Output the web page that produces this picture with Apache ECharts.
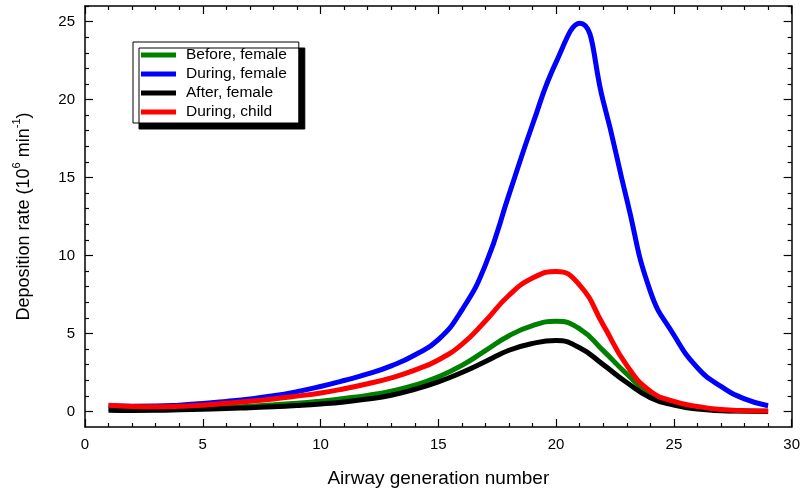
<!DOCTYPE html>
<html>
<head>
<meta charset="utf-8">
<script src="https://cdn.jsdelivr.net/npm/echarts@6/dist/echarts.min.js"></script>
<style>
  html, body { margin: 0; padding: 0; background: #fff; }
  #chart { width: 803px; height: 493px; }
</style>
</head>
<body>
<div id="chart"></div>
<script>
// Airway generation number (x values shared by every curve)
const generations = [1, 2, 3, 4, 5, 6, 7, 8, 9, 10, 11, 12, 13, 14, 15, 16, 17, 18, 19, 20, 21, 22, 23, 24, 25, 26, 27, 28, 29];

// Deposition rate, 10^6 per minute
const beforeFemale = [0.15, 0.12, 0.12, 0.15, 0.2, 0.26, 0.33, 0.42, 0.52, 0.66, 0.83, 1.03, 1.3, 1.68, 2.22, 2.95, 3.9, 4.85, 5.5, 5.78, 5.3, 3.9, 2.4, 1.1, 0.5, 0.22, 0.08, 0.03, 0.01];
const duringFemale = [0.38, 0.33, 0.34, 0.4, 0.5, 0.64, 0.8, 1.0, 1.27, 1.6, 1.98, 2.4, 2.92, 3.62, 4.6, 6.5, 9.4, 13.9, 18.4, 22.4, 24.9, 19.9, 13.6, 7.7, 4.9, 2.8, 1.6, 0.8, 0.36];
const afterFemale = [0.08, 0.06, 0.07, 0.1, 0.14, 0.18, 0.24, 0.3, 0.38, 0.48, 0.61, 0.79, 1.04, 1.42, 1.9, 2.5, 3.2, 3.92, 4.36, 4.54, 4.08, 3.0, 1.85, 0.88, 0.4, 0.15, 0.05, 0.02, 0.0];
const duringChild = [0.4, 0.32, 0.3, 0.33, 0.4, 0.52, 0.65, 0.8, 0.98, 1.18, 1.45, 1.77, 2.15, 2.65, 3.3, 4.3, 5.8, 7.45, 8.55, 8.98, 8.1, 5.55, 2.95, 1.3, 0.64, 0.32, 0.12, 0.05, 0.02];

const seriesNames = ['Before, female', 'During, female', 'After, female', 'During, child'];
const seriesColors = ['#008000', '#0000ff', '#000000', '#ff0000'];
const seriesValues = [beforeFemale, duringFemale, afterFemale, duringChild];

// Y axis ticks
const yMajorTicks = [0, 5, 10, 15, 20, 25];
const yMinorTicks = [1, 2, 3, 4, 6, 7, 8, 9, 11, 12, 13, 14, 16, 17, 18, 19, 21, 22, 23, 24, 26];

const FONT = 'Liberation Sans, Arial, Helvetica, sans-serif';
const axisLine = { show: true, onZero: false, lineStyle: { color: '#000', width: 1.5 } };

function xAxisDef(position, withLabels) {
  return {
    type: 'value', position: position, min: 0, max: 30, interval: 5,
    axisLine: axisLine,
    axisTick: { show: true, inside: true, length: 8, lineStyle: { color: '#000', width: 1.2 } },
    minorTick: { show: true, splitNumber: 5, length: 4, lineStyle: { color: '#000', width: 1.2 } },
    splitLine: { show: false },
    axisLabel: { show: withLabels, color: '#000', fontFamily: FONT, fontSize: 15, margin: 10 },
    name: withLabels ? 'Airway generation number' : '',
    nameLocation: 'middle', nameGap: 42,
    nameTextStyle: { color: '#000', fontFamily: FONT, fontSize: 19 }
  };
}

function yAxisDef(position, ticks, len, withLabels, withLine) {
  const axis = {
    type: 'value', position: position, min: -1, max: 26,
    axisLine: withLine ? axisLine : { show: false, onZero: false },
    axisTick: { show: true, inside: true, length: len, customValues: ticks, lineStyle: { color: '#000', width: 1.2 } },
    splitLine: { show: false },
    axisLabel: withLabels
      ? { show: true, customValues: yMajorTicks, color: '#000', fontFamily: FONT, fontSize: 15, margin: 10 }
      : { show: false }
  };
  if (withLabels) {
    axis.name = '{t|Deposition rate (10}{s|6}{t| min}{s|-1}{t|)}';
    axis.nameLocation = 'middle';
    axis.nameGap = 52;
    axis.nameRotate = 90;
    axis.nameTextStyle = {
      rich: {
        t: { color: '#000', fontFamily: FONT, fontSize: 18, lineHeight: 22, verticalAlign: 'bottom' },
        s: { color: '#000', fontFamily: FONT, fontSize: 11, lineHeight: 22, verticalAlign: 'top' }
      }
    };
  }
  return axis;
}

const chart = echarts.init(document.getElementById('chart'), null, { renderer: 'canvas' });

chart.setOption({
  animation: false,
  backgroundColor: '#fff',
  grid: { left: 85, right: 10, top: 6, bottom: 63 },
  xAxis: [xAxisDef('bottom', true), xAxisDef('top', false)],
  yAxis: [
    yAxisDef('left', yMajorTicks, 8, true, true),
    yAxisDef('left', yMinorTicks, 4, false, false),
    yAxisDef('right', yMajorTicks, 8, false, true),
    yAxisDef('right', yMinorTicks, 4, false, false)
  ],
  legend: {
    left: 133, top: 42,
    orient: 'vertical',
    icon: 'rect',
    itemWidth: 35, itemHeight: 5, itemGap: 3,
    padding: [5, 12, 3, 8],
    backgroundColor: '#fff',
    borderColor: '#000', borderWidth: 1,
    shadowColor: '#000', shadowBlur: 0, shadowOffsetX: 6, shadowOffsetY: 6,
    textStyle: { color: '#000', fontFamily: FONT, fontSize: 15.5, lineHeight: 15, padding: [0, 0, 0, 5] },
    data: seriesNames
  },
  series: seriesNames.map((name, i) => ({
    name: name,
    type: 'line',
    xAxisIndex: 0, yAxisIndex: 0,
    data: generations.map((g, k) => [g, seriesValues[i][k]]),
    smooth: true,
    showSymbol: false,
    color: seriesColors[i],
    lineStyle: { color: seriesColors[i], width: 5 }
  }))
});
</script>
</body>
</html>
